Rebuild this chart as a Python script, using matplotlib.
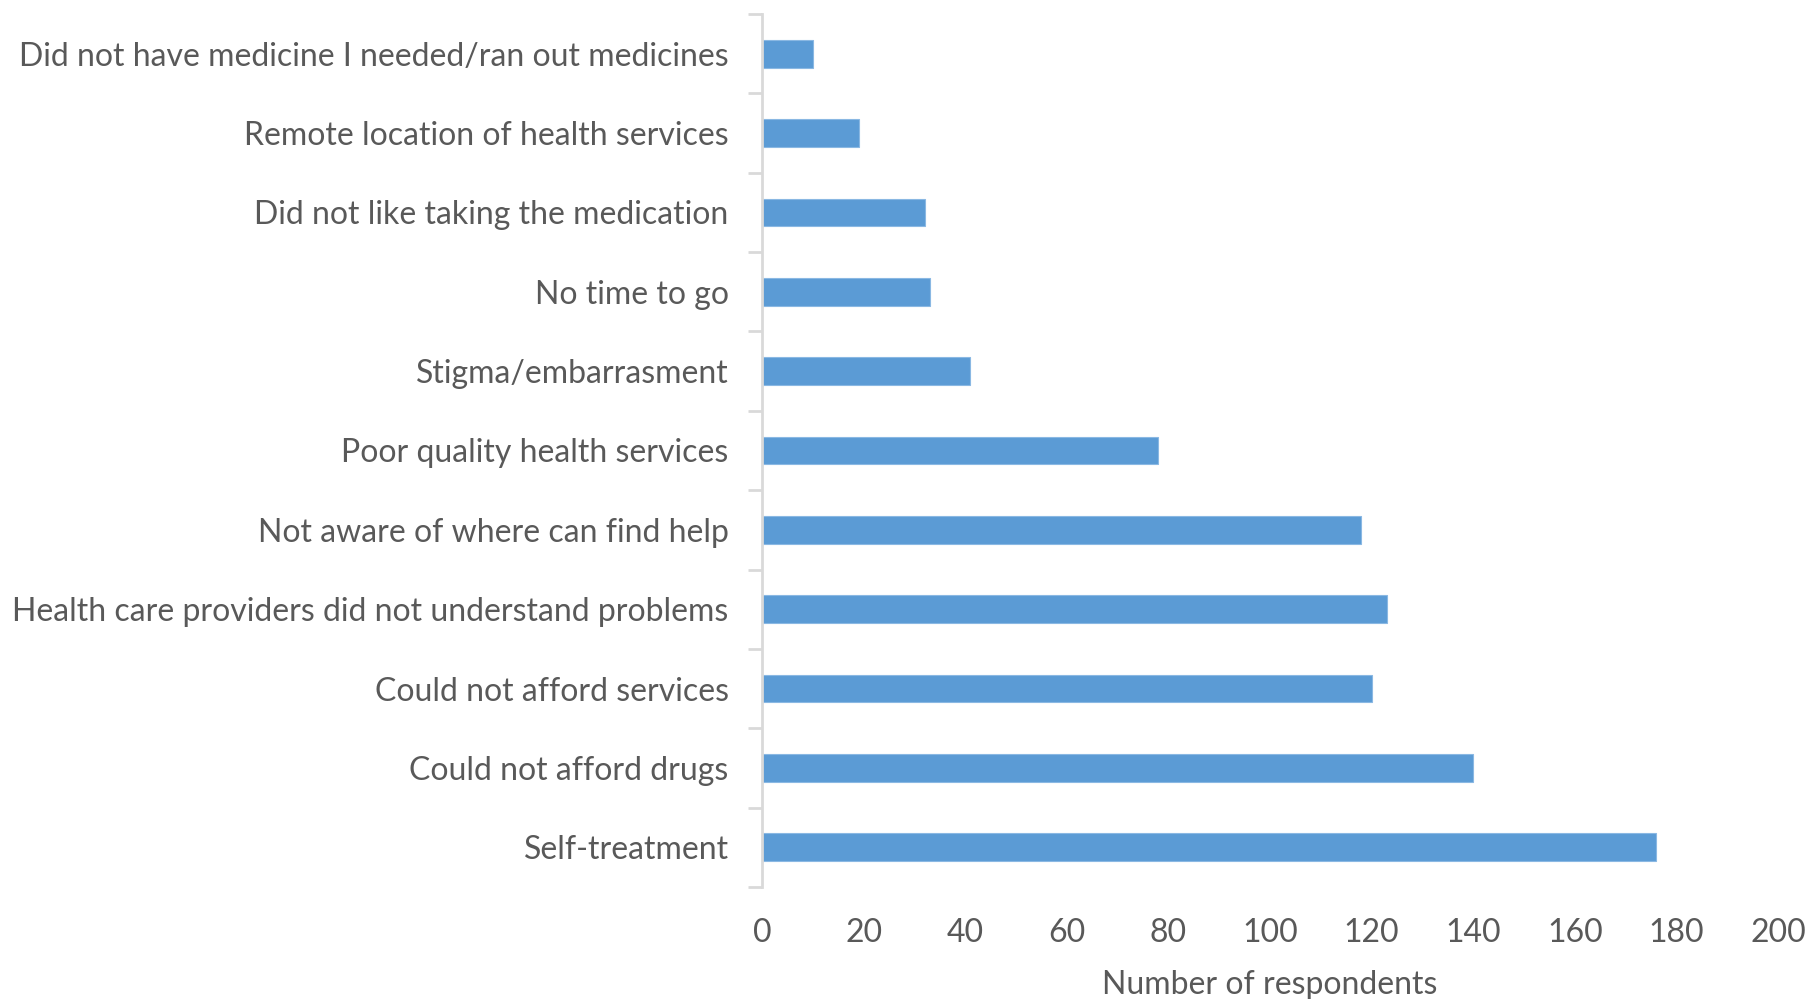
import matplotlib.pyplot as plt
import numpy as np

categories = [
    "Did not have medicine I needed/ran out medicines",
    "Remote location of health services",
    "Did not like taking the medication",
    "No time to go",
    "Stigma/embarrasment",
    "Poor quality health services",
    "Not aware of where can find help",
    "Health care providers did not understand problems",
    "Could not afford services",
    "Could not afford drugs",
    "Self-treatment",
]
respondents = [10, 19, 32, 33, 41, 78, 118, 123, 120, 140, 176]
xticks = [0, 20, 40, 60, 80, 100, 120, 140, 160, 180, 200]

plt.rcParams['font.family'] = ['Lato', 'DejaVu Sans']
grey = '#595959'
bar_color = '#5b9bd5'

fig = plt.figure(figsize=(18.1, 9.99), dpi=100)
ax = fig.add_axes([762 / 1810, 1 - 887 / 999, (1778 - 762) / 1810, (887 - 14) / 999])

y = np.arange(len(categories))
ax.barh(y, respondents, height=0.35, color=bar_color, edgecolor='#8ab8e3', linewidth=0.8)
ax.set_ylim(len(categories) - 0.5, -0.5)
ax.set_xlim(0, 200)

ax.set_yticks(y)
ax.set_yticklabels(categories, fontsize=23, color=grey)
ax.tick_params(axis='y', which='major', length=0, pad=24)
ax.set_yticks(np.arange(len(categories) + 1) - 0.5, minor=True)
ax.tick_params(axis='y', which='minor', length=10, width=2, color='#d9d9d9')

ax.set_xticks(xticks)
ax.set_xticklabels([str(v) for v in xticks], fontsize=23, color=grey)
ax.tick_params(axis='x', length=0, pad=22)
ax.set_xlabel("Number of respondents", fontsize=23, color=grey, labelpad=16)

for s in ['top', 'right', 'bottom']:
    ax.spines[s].set_visible(False)
ax.spines['left'].set_color('#d9d9d9')
ax.spines['left'].set_linewidth(2)

fig.savefig('out.png', dpi=100)
